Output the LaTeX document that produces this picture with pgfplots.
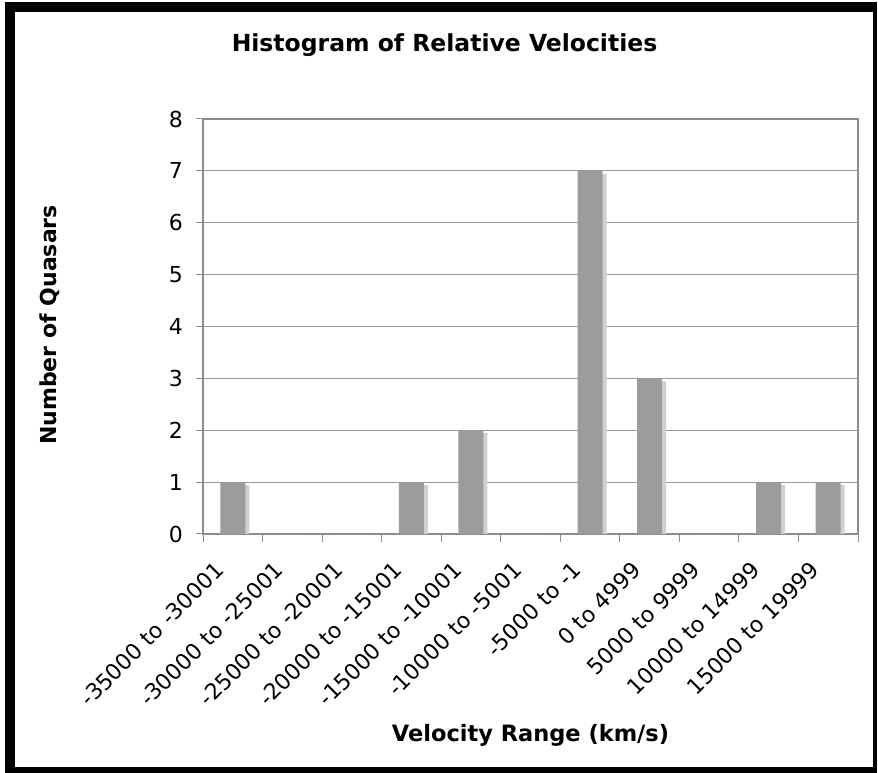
\documentclass[border=0pt]{standalone}
\usepackage{fontspec}
\setmainfont{DejaVu Sans}
\usepackage{pgfplots}
\pgfplotsset{compat=1.18}
\definecolor{barfill}{HTML}{9C9C9C}
\definecolor{barshadow}{HTML}{D0D0D0}
\definecolor{gridgray}{HTML}{999999}
\definecolor{axisgray}{HTML}{8C8C8C}
\begin{document}
\begin{tikzpicture}
\useasboundingbox (0,0) rectangle (878bp,773bp);
% black frame round the chart
\fill[black] (5bp,0bp) rectangle (877bp,771bp);
\fill[white] (15bp,6bp) rectangle (873bp,761bp);
\begin{axis}[
    at={(203bp,239bp)}, anchor=south west,
    scale only axis, width=655bp, height=415bp,
    xmin=-0.5, xmax=10.5, ymin=0, ymax=8,
    xtick={0,...,10},
    xticklabels={-35000 to -30001, -30000 to -25001, -25000 to -20001,
        -20000 to -15001, -15000 to -10001, -10000 to -5001, -5000 to -1,
        0 to 4999, 5000 to 9999, 10000 to 14999, 15000 to 19999},
    minor xtick={-0.5,0.5,...,10.5},
    ytick={0,...,8},
    tick align=outside, xtick pos=bottom, ytick pos=left,
    major tick length=7bp, minor tick length=8bp,
    major x tick style={draw=none},
    tick style={axisgray, line width=1bp},
    axis line style={axisgray, line width=1.5bp},
    ymajorgrids, grid style={gridgray, line width=1bp},
    tick label style={font=\fontsize{22bp}{22bp}\selectfont, black},
    /pgf/number format/assume math mode=true,
    xticklabel style={xshift=-13bp, yshift=-25bp, inner sep=0pt, rotate=45, anchor=east},
    yticklabel style={anchor=east, inner sep=0pt, xshift=-13bp},
    title={Histogram of Relative Velocities},
    title style={font=\fontsize{23.5bp}{23.5bp}\selectfont\bfseries,
        at={(axis description cs:0.3687,1.1494)}, anchor=base},
    xlabel={Velocity Range (km/s)},
    xlabel style={font=\fontsize{22.5bp}{22.5bp}\selectfont\bfseries,
        at={(axis description cs:0.5,-0.501)}, anchor=base},
    ylabel={Number of Quasars},
    ylabel style={font=\fontsize{22bp}{22bp}\selectfont\bfseries,
        at={(axis description cs:-0.2244,0.5036)}, anchor=base},
]
% shadow behind each bar
\addplot[ybar, bar width=25bp, bar shift=4bp, yshift=-3bp,
    fill=barshadow, draw=none] coordinates {
    (0,1) (1,0) (2,0) (3,1) (4,2) (5,0) (6,7) (7,3) (8,0) (9,1) (10,1)
};
% counts
\addplot[ybar, bar width=25bp, bar shift=0bp,
    fill=barfill, draw=none] coordinates {
    (0,1) (1,0) (2,0) (3,1) (4,2) (5,0) (6,7) (7,3) (8,0) (9,1) (10,1)
};
\end{axis}
\end{tikzpicture}
\end{document}
